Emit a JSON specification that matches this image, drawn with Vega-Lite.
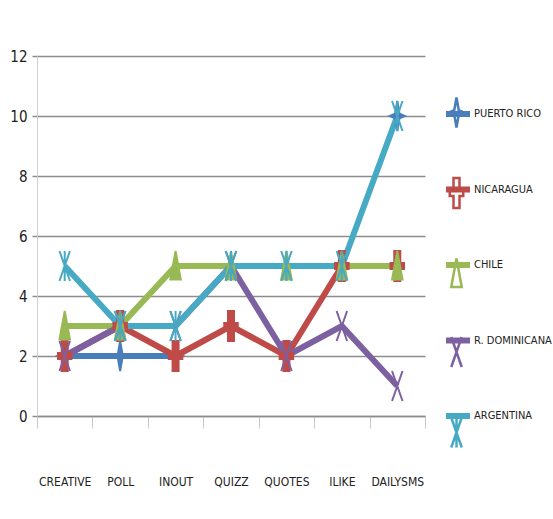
{
  "$schema": "https://vega.github.io/schema/vega-lite/v6.json",
  "width": 388,
  "height": 360,
  "autosize": {"type": "none"},
  "padding": {"left": 37, "top": 56, "right": 128, "bottom": 103},
  "background": "white",
  "config": {
    "view": {"stroke": null},
    "font": "DejaVu Sans Condensed, DejaVu Sans, sans-serif"
  },
  "data": {
    "values": [
      {"c": "CREATIVE", "s": "PUERTO RICO", "v": 2},
      {"c": "POLL", "s": "PUERTO RICO", "v": 2},
      {"c": "INOUT", "s": "PUERTO RICO", "v": 2},
      {"c": "QUIZZ", "s": "PUERTO RICO", "v": null},
      {"c": "QUOTES", "s": "PUERTO RICO", "v": null},
      {"c": "ILIKE", "s": "PUERTO RICO", "v": null},
      {"c": "DAILYSMS", "s": "PUERTO RICO", "v": 10},
      {"c": "CREATIVE", "s": "NICARAGUA", "v": 2},
      {"c": "POLL", "s": "NICARAGUA", "v": 3},
      {"c": "INOUT", "s": "NICARAGUA", "v": 2},
      {"c": "QUIZZ", "s": "NICARAGUA", "v": 3},
      {"c": "QUOTES", "s": "NICARAGUA", "v": 2},
      {"c": "ILIKE", "s": "NICARAGUA", "v": 5},
      {"c": "DAILYSMS", "s": "NICARAGUA", "v": 5},
      {"c": "CREATIVE", "s": "CHILE", "v": 3},
      {"c": "POLL", "s": "CHILE", "v": 3},
      {"c": "INOUT", "s": "CHILE", "v": 5},
      {"c": "QUIZZ", "s": "CHILE", "v": 5},
      {"c": "QUOTES", "s": "CHILE", "v": 5},
      {"c": "ILIKE", "s": "CHILE", "v": 5},
      {"c": "DAILYSMS", "s": "CHILE", "v": 5},
      {"c": "CREATIVE", "s": "R. DOMINICANA", "v": 2},
      {"c": "POLL", "s": "R. DOMINICANA", "v": 3},
      {"c": "INOUT", "s": "R. DOMINICANA", "v": 3},
      {"c": "QUIZZ", "s": "R. DOMINICANA", "v": 5},
      {"c": "QUOTES", "s": "R. DOMINICANA", "v": 2},
      {"c": "ILIKE", "s": "R. DOMINICANA", "v": 3},
      {"c": "DAILYSMS", "s": "R. DOMINICANA", "v": 1},
      {"c": "CREATIVE", "s": "ARGENTINA", "v": 5},
      {"c": "POLL", "s": "ARGENTINA", "v": 3},
      {"c": "INOUT", "s": "ARGENTINA", "v": 3},
      {"c": "QUIZZ", "s": "ARGENTINA", "v": 5},
      {"c": "QUOTES", "s": "ARGENTINA", "v": 5},
      {"c": "ILIKE", "s": "ARGENTINA", "v": 5},
      {"c": "DAILYSMS", "s": "ARGENTINA", "v": 10}
    ]
  },
  "encoding": {
    "x": {
      "field": "c",
      "type": "nominal",
      "sort": ["CREATIVE", "POLL", "INOUT", "QUIZZ", "QUOTES", "ILIKE", "DAILYSMS"],
      "scale": {"type": "band", "paddingInner": 0, "paddingOuter": 0},
      "axis": {
        "title": null,
        "labelAngle": 0,
        "labelFontSize": 12,
        "labelColor": "#222",
        "labelPadding": 48,
        "tickBand": "extent",
        "tickSize": 12,
        "tickColor": "#c8c8c8",
        "tickWidth": 1,
        "domainColor": "#8c8c8c",
        "domainWidth": 1.5,
        "grid": false
      }
    },
    "y": {
      "field": "v",
      "type": "quantitative",
      "scale": {"domain": [0, 12]},
      "axis": {
        "title": null,
        "values": [0, 2, 4, 6, 8, 10, 12],
        "labelFontSize": 15,
        "labelColor": "#222",
        "labelPadding": 5,
        "tickSize": 5,
        "tickColor": "#8c8c8c",
        "tickWidth": 1.5,
        "domainColor": "#d0d0d0",
        "domainWidth": 1,
        "grid": true,
        "gridColor": "#8c8c8c",
        "gridWidth": 1.5
      }
    },
    "color": {
      "field": "s",
      "type": "nominal",
      "scale": {
        "domain": ["PUERTO RICO", "NICARAGUA", "CHILE", "R. DOMINICANA", "ARGENTINA"],
        "range": ["#4A7EBB", "#BE4B48", "#98B954", "#7D60A0", "#46AAC5"]
      }
    }
  },
  "layer": [
    {
      "mark": {"type": "line", "strokeWidth": 6, "invalid": "break-paths-show-domains"},
      "encoding": {
        "color": {
          "field": "s",
          "type": "nominal",
          "legend": {
            "title": null,
            "orient": "none",
            "legendX": 406,
            "legendY": 43,
            "symbolType": "stroke",
            "symbolSize": 576,
            "symbolStrokeWidth": 6,
            "rowPadding": 48.5,
            "labelFontSize": 11,
            "labelColor": "#222",
            "labelOffset": 1,
            "padding": 0
          }
        }
      }
    },
    {
      "mark": {"type": "point", "filled": true, "size": 900, "strokeWidth": 2, "opacity": 1},
      "encoding": {
        "color": {"field": "s", "type": "nominal", "legend": null},
        "stroke": {
          "field": "s",
          "type": "nominal",
          "scale": {
            "domain": ["PUERTO RICO", "NICARAGUA", "CHILE", "R. DOMINICANA", "ARGENTINA"],
            "range": ["#4A7EBB", "#BE4B48", "#98B954", "#7D60A0", "#46AAC5"]
          },
          "legend": {
            "title": null,
            "orient": "none",
            "legendX": 403,
            "legendY": 40,
            "symbolSize": 900,
            "symbolStrokeWidth": 2.5,
            "symbolFillColor": "transparent",
            "rowPadding": 39.5,
            "labelFontSize": 11,
            "labelOpacity": 0,
            "labelOffset": 1,
            "padding": 0
          }
        },
        "shape": {
          "field": "s",
          "type": "nominal",
          "scale": {
            "domain": ["PUERTO RICO", "NICARAGUA", "CHILE", "R. DOMINICANA", "ARGENTINA"],
            "range": [
              "M0,-1L0.15,-0.15L0.5,0L0.15,0.15L0,1L-0.15,0.15L-0.5,0L-0.15,-0.15Z",
              "M-0.2,-1H0.2V-0.2H0.45V0.2H0.2V1H-0.2V0.2H-0.45V-0.2H-0.2Z",
              "M0,-1L0.35,0.9L-0.35,0.9Z",
              "M-0.35,-1L0.35,1M-0.35,1L0.35,-1",
              "M-0.35,-1L0.35,1M-0.35,1L0.35,-1M0,-1L0,1"
            ]
          },
          "legend": {
            "title": null,
            "orient": "none",
            "legendX": 403,
            "legendY": 40,
            "symbolSize": 900,
            "symbolStrokeWidth": 2.5,
            "symbolFillColor": "transparent",
            "rowPadding": 39.5,
            "labelFontSize": 11,
            "labelOpacity": 0,
            "labelOffset": 1,
            "padding": 0
          }
        }
      }
    }
  ],
  "resolve": {"legend": {"color": "independent"}}
}
